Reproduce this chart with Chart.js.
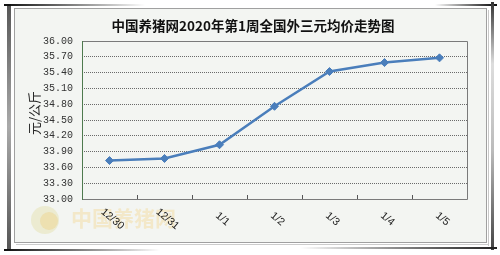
<!DOCTYPE html>
<html><head><meta charset="utf-8">
<script src="https://cdn.jsdelivr.net/npm/chart.js@4/dist/chart.umd.min.js"></script>
<style>html,body{margin:0;padding:0;background:#fff;}#wrap{width:500px;height:255px;position:relative;}</style>
</head><body><div id="wrap"><canvas id="c" width="500" height="255"></canvas></div>
<script>
const chartTitle = '中国养猪网2020年第1周全国外三元均价走势图';
const yAxisTitle = '元/公斤';
const watermarkText = '中国养猪网';
const categories = ['12/30', '12/31', '1/1', '1/2', '1/3', '1/4', '1/5'];
const prices = [33.73, 33.77, 34.03, 34.76, 35.42, 35.59, 35.68];
const yMin = 33.0, yMax = 36.0, yStep = 0.3;

const decor = {
  id: 'decor',
  beforeDraw(chart) {
    const ctx = chart.ctx;
    ctx.save();
    ctx.fillStyle = '#f3f5f2';
    ctx.fillRect(14, 8, 473, 235);
    ctx.strokeStyle = '#a0a0a0'; ctx.lineWidth = 1;
    ctx.strokeRect(14.5, 8.5, 472, 234);
    let g = ctx.createLinearGradient(0, 3, 0, 250);
    g.addColorStop(0, '#555'); g.addColorStop(0.5, '#aaa'); g.addColorStop(1, '#555');
    ctx.fillStyle = g; ctx.fillRect(7, 4, 4, 246);
    g = ctx.createLinearGradient(5, 0, 145, 0);
    g.addColorStop(0, '#111'); g.addColorStop(1, 'rgba(0,0,0,0)');
    ctx.fillStyle = g; ctx.fillRect(4, 4, 141, 2);
    g = ctx.createLinearGradient(435, 0, 495, 0);
    g.addColorStop(0, 'rgba(0,0,0,0)'); g.addColorStop(1, '#111');
    ctx.fillStyle = g; ctx.fillRect(435, 4, 62, 2);
    g = ctx.createLinearGradient(0, 2, 0, 250);
    g.addColorStop(0, '#333'); g.addColorStop(0.25, '#ddd'); g.addColorStop(0.6, '#bbb'); g.addColorStop(1, '#444');
    ctx.fillStyle = g; ctx.fillRect(491, 2, 3, 248);
    ctx.fillStyle = '#c8c8c8'; ctx.fillRect(488, 10, 1, 236);
    g = ctx.createLinearGradient(5, 0, 160, 0);
    g.addColorStop(0, '#111'); g.addColorStop(1, 'rgba(0,0,0,0)');
    ctx.fillStyle = g; ctx.fillRect(4, 249, 156, 2);
    g = ctx.createLinearGradient(300, 0, 497, 0);
    g.addColorStop(0, 'rgba(0,0,0,0)'); g.addColorStop(1, '#222');
    ctx.fillStyle = g; ctx.fillRect(300, 247, 197, 2);
    ctx.fillStyle = '#ccc'; ctx.fillRect(16, 244, 472, 1);

    // watermark
    ctx.globalAlpha = 0.25;
    ctx.fillStyle = '#d8d070';
    ctx.beginPath(); ctx.arc(45, 220, 14, 0, Math.PI * 2); ctx.fill();
    ctx.fillStyle = '#f0c050';
    ctx.beginPath(); ctx.arc(49, 221, 9, 0, Math.PI * 2); ctx.fill();
    ctx.font = 'bold 21px "Noto Sans CJK SC"';
    ctx.textAlign = 'left'; ctx.textBaseline = 'middle';
    ctx.fillStyle = '#f2c250';
    ctx.fillText(watermarkText, 71, 218);
    ctx.globalAlpha = 1;

    ctx.fillStyle = '#111';
    ctx.font = 'bold 13.5px "Noto Sans CJK SC"';
    ctx.textAlign = 'center'; ctx.textBaseline = 'middle';
    ctx.fillText(chartTitle, 253, 26);

    ctx.save();
    ctx.translate(34, 113);
    ctx.rotate(-Math.PI / 2);
    ctx.font = '13px "Noto Sans CJK SC"';
    ctx.fillStyle = '#222';
    ctx.fillText(yAxisTitle, 0, 0);
    ctx.restore();
    ctx.restore();
  },
  beforeDatasetsDraw(chart) {
    const ctx = chart.ctx, a = chart.chartArea, xs = chart.scales.x;
    ctx.save();
    ctx.lineWidth = 1;
    ctx.strokeStyle = '#7a7a7a';
    ctx.beginPath();
    ctx.moveTo(a.left, a.top + 0.5); ctx.lineTo(a.right + 0.5, a.top + 0.5);
    ctx.lineTo(a.right + 0.5, a.bottom + 0.5); ctx.lineTo(a.left, a.bottom + 0.5);
    ctx.stroke();
    ctx.strokeStyle = '#4e7a4e';
    ctx.beginPath(); ctx.moveTo(a.left + 0.5, a.top); ctx.lineTo(a.left + 0.5, a.bottom + 1); ctx.stroke();
    ctx.strokeStyle = '#555';
    const n = categories.length;
    const step = (a.right - a.left) / n;
    ctx.beginPath();
    for (let i = 1; i < n; i++) {
      const x = Math.round(a.left + i * step) + 0.5;
      ctx.moveTo(x, a.bottom); ctx.lineTo(x, a.bottom - 4);
    }
    ctx.stroke();
    ctx.font = '10.5px "Liberation Sans"';
    ctx.fillStyle = '#222';
    ctx.textAlign = 'center'; ctx.textBaseline = 'middle';
    categories.forEach((c, i) => {
      const x = xs.getPixelForValue(i);
      ctx.save();
      ctx.translate(x + 3, a.bottom + 20);
      ctx.rotate(40 * Math.PI / 180);
      ctx.fillText(c, 0, 0);
      ctx.restore();
    });
    ctx.restore();
  }
};

new Chart(document.getElementById('c'), {
  type: 'line',
  data: {
    labels: categories,
    datasets: [{
      data: prices,
      borderColor: '#4a7ebb',
      backgroundColor: '#4a7ebb',
      borderWidth: 2.5,
      pointStyle: 'rectRot',
      pointRadius: 4,
      pointBorderWidth: 1,
      tension: 0,
      fill: false
    }]
  },
  options: {
    responsive: false,
    animation: false,
    events: [],
    layout: { padding: { left: 0, right: 33, top: 41, bottom: 56 } },
    plugins: { legend: { display: false }, title: { display: false }, tooltip: { enabled: false } },
    scales: {
      x: {
        type: 'category',
        offset: true,
        grid: { display: false },
        border: { display: false },
        ticks: { display: false },
        afterFit(s) { s.height = 0; }
      },
      y: {
        min: yMin, max: yMax,
        grid: {
          drawTicks: false,
          color: (ctx) => (ctx.tick && (Math.abs(ctx.tick.value - yMin) < 1e-6 || Math.abs(ctx.tick.value - yMax) < 1e-6)) ? 'rgba(0,0,0,0)' : '#6a6a6a',
          lineWidth: 1
        },
        border: { display: false, dash: [1, 1] },
        ticks: {
          stepSize: yStep,
          padding: 9,
          color: '#333',
          font: { family: '"Liberation Mono"', size: 10 },
          callback: (v) => Number(v).toFixed(2)
        },
        afterFit(s) { s.width = 82; }
      }
    }
  },
  plugins: [decor]
});
</script></body></html>
